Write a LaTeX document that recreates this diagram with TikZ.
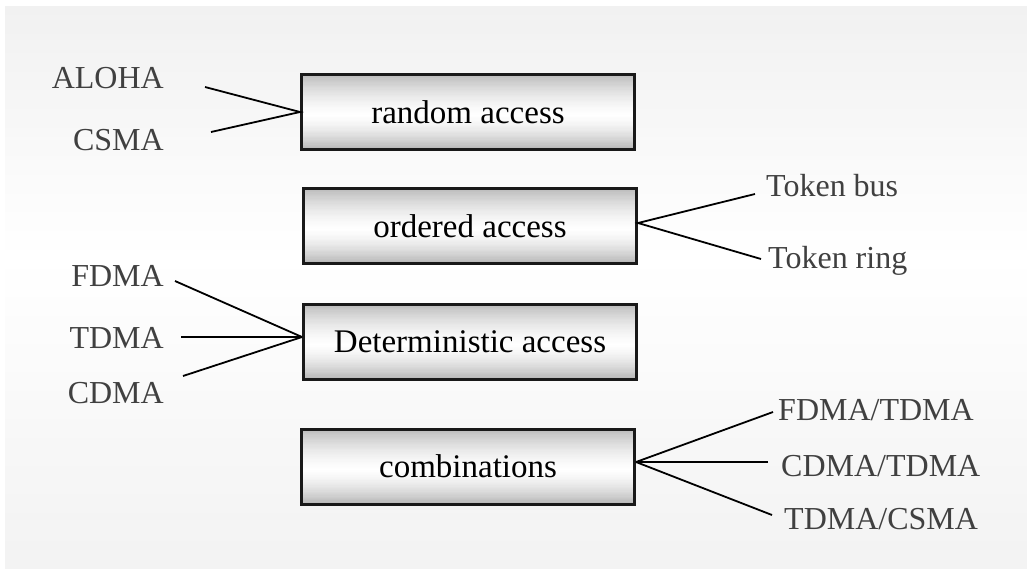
\documentclass[tikz,border=0pt]{standalone}
\usepackage{fontspec}
\setmainfont{Liberation Serif}
\usetikzlibrary{calc}
\begin{document}
\begin{tikzpicture}[x=1pt,y=1pt,
  % vertical metal-like gradient built from thin strips
  metalfill/.style={path picture={
    \foreach \i in {0,...,59}{
      \pgfmathsetmacro\ta{\i/60}
      \pgfmathsetmacro\tb{min(1,(\i+1.2)/60)}
      \pgfmathsetmacro\tm{(\i+0.5)/60}
      \pgfmathsetmacro\ua{max(0,(0.54-\tm)/0.54)}
      \pgfmathsetmacro\ub{max(0,(\tm-0.54)/0.46)}
      \pgfmathsetmacro\c{27*(0.4*\ua+0.6*\ua*\ua)+29*(0.4*\ub+0.6*\ub*\ub)}
      \fill[black!\c]
        ($(path picture bounding box.north west)!\ta!(path picture bounding box.south west)$)
        rectangle
        ($(path picture bounding box.north east)!\tb!(path picture bounding box.south east)$);
    }}},
  accessbox/.style={draw=black!90, line width=3pt, rectangle,
    minimum width=333pt, minimum height=75pt, inner sep=0pt, metalfill,
    font=\fontsize{33}{40}\selectfont, text=black},
  lbl/.style={inner sep=0pt, text=black!75, font=\fontsize{32}{38}\selectfont},
  link/.style={line width=1.8pt, black}]
% page and soft panel behind everything
\useasboundingbox (0,0) rectangle (1027,-570);
\fill[white] (0,0) rectangle (1027,-570);
\foreach \i in {0,...,59}{
  \pgfmathsetmacro\ya{-6-\i*9.3833}
  \pgfmathsetmacro\yb{max(-6-(\i+1.2)*9.3833,-569)}
  \pgfmathsetmacro\tm{(\i+0.5)/60}
  \pgfmathsetmacro\c{5.5*max(0,(0.45-\tm)/0.45)+5*max(0,(\tm-0.45)/0.55)}
  \fill[black!\c] (5,\ya) rectangle (1027,\yb);
}

% the four access classes
\node[accessbox] (rand) at (468,-112) {random access};
\node[accessbox] (ord)  at (470,-226) {ordered access};
\node[accessbox] (det)  at (470,-341.5) {Deterministic access};
\node[accessbox] (comb) at (468,-466.5) {combinations};

% labels on the left
\node[lbl, anchor=base east] (aloha) at (164,-88) {ALOHA};
\node[lbl, anchor=base east] (csma)  at (164,-150) {CSMA};
\node[lbl, anchor=base east] (fdma)  at (164,-286) {FDMA};
\node[lbl, anchor=base east] (tdma)  at (164,-348) {TDMA};
\node[lbl, anchor=base east] (cdma)  at (164,-403) {CDMA};

% labels on the right
\node[lbl, anchor=base west] (tbus)  at (766,-196) {Token bus};
\node[lbl, anchor=base west] (tring) at (768,-268) {Token ring};
\node[lbl, anchor=base west] (ft)    at (778,-420) {FDMA/TDMA};
\node[lbl, anchor=base west] (ct)    at (781,-476) {CDMA/TDMA};
\node[lbl, anchor=base west] (tc)    at (784,-529) {TDMA/CSMA};

% loose ends of the connectors, next to their labels
\coordinate (aloha-e) at (205,-87);
\coordinate (csma-e)  at (211,-132);
\coordinate (fdma-e)  at (175,-281);
\coordinate (tdma-e)  at (181,-337);
\coordinate (cdma-e)  at (183,-376);
\coordinate (tbus-e)  at (755,-194);
\coordinate (tring-e) at (761,-259);
\coordinate (ft-e)    at (773,-412);
\coordinate (ct-e)    at (768,-462);
\coordinate (tc-e)    at (772,-515);

% connectors
\draw[link] (aloha-e) -- (rand.west) -- (csma-e);
\draw[link] (fdma-e) -- ([yshift=4.5pt]det.west);
\draw[link] (tdma-e) -- ([yshift=4.5pt]det.west);
\draw[link] (cdma-e) -- ([yshift=4.5pt]det.west);
\draw[link] (tbus-e) -- ([yshift=3pt]ord.east) -- (tring-e);
\draw[link] (ft-e) -- ([yshift=4.5pt]comb.east);
\draw[link] (ct-e) -- ([yshift=4.5pt]comb.east);
\draw[link] (tc-e) -- ([yshift=4.5pt]comb.east);
\end{tikzpicture}
\end{document}
